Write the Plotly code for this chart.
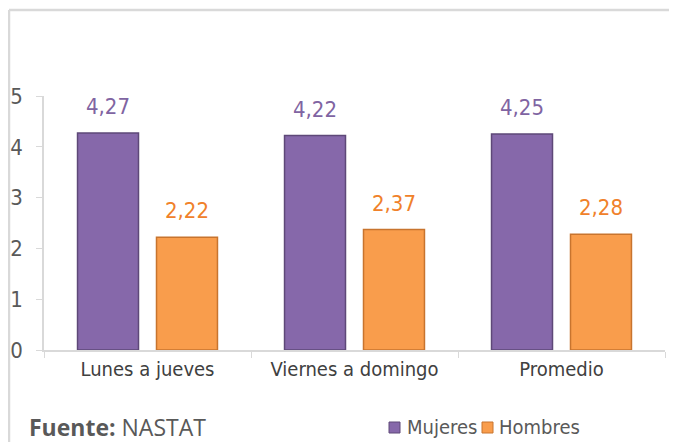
import plotly.graph_objects as go

categories = ["Lunes a jueves", "Viernes a domingo", "Promedio"]
mujeres = [4.27, 4.22, 4.25]
hombres = [2.22, 2.37, 2.28]
y_ticks = [0, 1, 2, 3, 4, 5]

# the page body has an 8px margin, so screen coordinates are shifted by OFF
OFF = 8
W, H = 677 - OFF, 442 - OFF
L, R, T, B = 44 - OFF, W - (665 - OFF), 96 - OFF, H - (350 - OFF)
pw, ph = W - L - R, H - T - B

def px_x(x):  # screen x -> paper
    return (x - OFF - L) / pw

def px_y(y):  # screen y -> paper
    return (H - B - (y - OFF)) / ph

FONT = "DejaVu Sans Condensed"
BARGAP, GROUPGAP = 0.237, 0.228
half = (1 - BARGAP) / 4  # centre offset of each bar within its group

def fmt(v):
    return f"{v:.2f}".replace(".", ",")

series = [
    ("Mujeres", mujeres, "#8668AA", "#5E4878", "#8064A2"),
    ("Hombres", hombres, "#F99D4C", "#C8742E", "#F0812A"),
]

fig = go.Figure()
for name, vals, fill, edge, _ in series:
    fig.add_trace(go.Bar(name=name, x=categories, y=vals, showlegend=False,
                         marker=dict(color=fill, line=dict(color=edge, width=1.5))))

for k, (name, vals, fill, edge, tcol) in enumerate(series):
    sign = -1 if k == 0 else 1
    for i, v in enumerate(vals):
        fig.add_annotation(x=i + sign * half, y=v, xref="x", yref="y", text=fmt(v), showarrow=False,
                           yanchor="bottom", yshift=12,
                           font=dict(family=FONT, size=22, color=tcol))

# manual legend (swatch + label)
legend_pos = [(389, 405), (482, 497)]
for (name, vals, fill, edge, _), (sx, tx) in zip(series, legend_pos):
    fig.add_shape(type="rect", xref="paper", yref="paper",
                  x0=px_x(sx), x1=px_x(sx + 11), y0=px_y(422), y1=px_y(433),
                  fillcolor=fill, line=dict(color=edge, width=1))
    fig.add_annotation(xref="paper", yref="paper", x=px_x(tx), y=px_y(427), xanchor="left", yanchor="middle",
                       text=name, showarrow=False, font=dict(family=FONT, size=20, color="#595959"))

fig.update_layout(
    width=W, height=H,
    margin=dict(l=L, r=R, t=T, b=B, autoexpand=False),
    paper_bgcolor="white", plot_bgcolor="white",
    barmode="group", bargap=BARGAP, bargroupgap=GROUPGAP,
    showlegend=False,
    xaxis=dict(showline=True, linecolor="#D9D9D9", linewidth=1.5, tickson="boundaries",
               ticks="outside", ticklen=6, tickcolor="#D9D9D9",
               tickfont=dict(family=FONT, size=20, color="#404040"),
               showgrid=False, zeroline=False, automargin=False),
    yaxis=dict(range=[0, 5], tickvals=y_ticks, showline=True, linecolor="#D9D9D9", linewidth=1.5,
               ticks="outside", ticklen=6, tickcolor="#D9D9D9", ticklabelstandoff=9,
               tickfont=dict(family=FONT, size=22, color="#595959"),
               showgrid=False, zeroline=False, automargin=False),
)

fig.add_annotation(xref="paper", yref="paper", x=px_x(27), y=px_y(427), xanchor="left", yanchor="middle",
                   text="<b>Fuente:</b> NASTAT", showarrow=False,
                   font=dict(family="Open Sans, sans-serif", size=23, color="#595959"))

# frame
fig.add_shape(type="line", xref="paper", yref="paper", x0=px_x(9), x1=px_x(9), y0=px_y(10), y1=px_y(460),
              line=dict(color="#D9D9D9", width=2.5))
fig.add_shape(type="line", xref="paper", yref="paper", x0=px_x(9), x1=px_x(700), y0=px_y(10), y1=px_y(10),
              line=dict(color="#D9D9D9", width=2.5))

fig.write_html("out.html")
